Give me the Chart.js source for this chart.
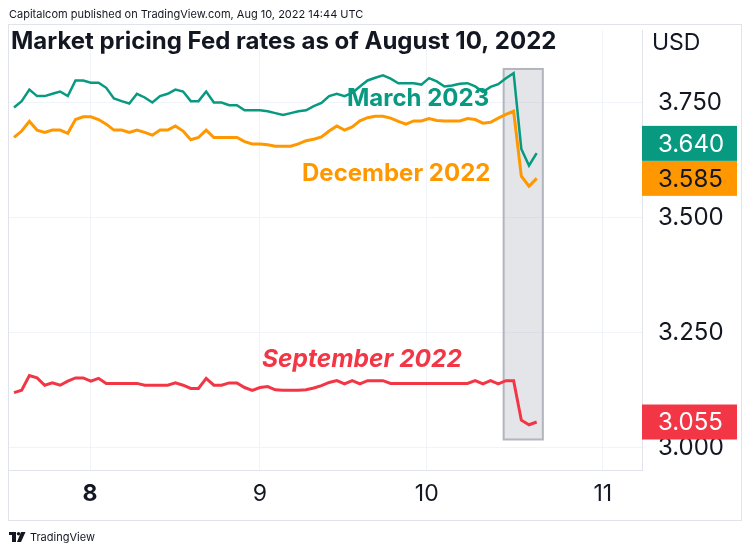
<!DOCTYPE html>
<html>
<head>
<meta charset="utf-8">
<script src="https://cdn.jsdelivr.net/npm/chart.js@4.4.0/dist/chart.umd.min.js"></script>
<style>
  html, body { margin: 0; padding: 0; background: #fff; }
  #wrap { width: 750px; height: 553px; }
</style>
</head>
<body>
<div id="wrap"><canvas id="fedChart" width="750" height="553"></canvas></div>
<script>
// hourly bars, implied rate (USD) per fed funds futures contract
const march2023 = [3.739, 3.753, 3.778, 3.764, 3.764, 3.769, 3.774, 3.764, 3.798, 3.798, 3.793, 3.793, 3.782, 3.759, 3.753, 3.748, 3.769, 3.761, 3.750, 3.764, 3.769, 3.778, 3.774, 3.753, 3.753, 3.774, 3.750, 3.750, 3.744, 3.744, 3.733, 3.733, 3.733,
  3.731, 3.727, 3.723, 3.727, 3.731, 3.733, 3.742, 3.749, 3.764, 3.769, 3.764, 3.771, 3.785, 3.798, 3.804, 3.809, 3.802, 3.792, 3.792, 3.792, 3.789, 3.803, 3.796, 3.785, 3.787, 3.791, 3.792, 3.785, 3.773, 3.784, 3.790, 3.803, 3.814, 3.649, 3.613, 3.640];
const december2022 = [3.674, 3.688, 3.709, 3.690, 3.685, 3.690, 3.690, 3.683, 3.713, 3.719, 3.719, 3.713, 3.703, 3.690, 3.690, 3.685, 3.690, 3.685, 3.679, 3.690, 3.690, 3.699, 3.688, 3.669, 3.674, 3.690, 3.674, 3.674, 3.674, 3.674, 3.665, 3.660, 3.660,
  3.658, 3.655, 3.655, 3.655, 3.660, 3.667, 3.670, 3.675, 3.688, 3.699, 3.690, 3.697, 3.710, 3.717, 3.720, 3.720, 3.716, 3.709, 3.703, 3.710, 3.710, 3.715, 3.711, 3.710, 3.710, 3.710, 3.715, 3.713, 3.705, 3.707, 3.716, 3.724, 3.731, 3.590, 3.568, 3.585];
const september2022 = [3.119, 3.124, 3.156, 3.151, 3.135, 3.140, 3.135, 3.144, 3.151, 3.151, 3.144, 3.150, 3.139, 3.139, 3.139, 3.139, 3.139, 3.135, 3.135, 3.135, 3.135, 3.140, 3.135, 3.128, 3.128, 3.150, 3.135, 3.135, 3.140, 3.140, 3.130, 3.124, 3.130,
  3.132, 3.125, 3.124, 3.124, 3.124, 3.125, 3.129, 3.134, 3.141, 3.145, 3.138, 3.145, 3.138, 3.145, 3.145, 3.145, 3.139, 3.139, 3.139, 3.139, 3.139, 3.139, 3.139, 3.139, 3.139, 3.139, 3.139, 3.145, 3.138, 3.145, 3.138, 3.145, 3.145, 3.059, 3.049, 3.055];

// day boundaries (in bar index) and their labels
const dayTickPos = [9.9, 32, 53.7, 76.6];
const dayLabels = ['8', '9', '10', '11'];
const priceTicks = [3.0, 3.25, 3.5, 3.75];

const seriesNames = ['March 2023', 'December 2022', 'September 2022'];
const seriesColors = ['#089981', '#ff9800', '#f23645'];

const FONT = 'Inter, "Noto Sans", sans-serif';
const TEXT = '#131722';
const FRAME = '#e0e3eb';

// grey box round the last session's drop (data units)
const highlight = { x0: 63.7, x1: 68.8, y0: 3.017, y1: 3.823 };

const annotations = [
  { text: 'March 2023', x: 347, y: 106, font: 'bold 24px ' + FONT, color: '#089981' },
  { text: 'December 2022', x: 302, y: 181, font: 'bold 24px ' + FONT, color: '#ff9800' },
  { text: 'September 2022', x: 262, y: 367, font: 'italic bold 24.5px ' + FONT, color: '#f23645' }
];

const valueText = ['#ffffff', TEXT, '#ffffff'];

const toPoints = arr => arr.map((v, i) => ({ x: i, y: v }));

const decor = {
  id: 'decor',
  beforeDraw(chart) {
    const c = chart.ctx;
    c.save();
    c.fillStyle = '#fff';
    c.fillRect(0, 0, chart.width, chart.height);
    c.restore();
  },
  beforeDatasetsDraw(chart) {
    const { ctx: c, scales: { x, y } } = chart;
    const l = x.getPixelForValue(highlight.x0), r = x.getPixelForValue(highlight.x1);
    const t = y.getPixelForValue(highlight.y1), b = y.getPixelForValue(highlight.y0);
    c.save();
    c.fillStyle = 'rgba(178,181,190,0.35)';
    c.fillRect(l, t, r - l, b - t);
    c.strokeStyle = '#b2b5be';
    c.lineWidth = 2;
    c.strokeRect(l, t, r - l, b - t);
    c.restore();
  },
  afterDatasetsDraw(chart) {
    const c = chart.ctx;
    c.save();
    c.textBaseline = 'alphabetic';
    annotations.forEach(a => {
      c.font = a.font;
      c.fillStyle = a.color;
      c.fillText(a.text, a.x, a.y);
    });
    c.restore();
  },
  afterDraw(chart) {
    const { ctx: c, chartArea: ca, scales: { y } } = chart;
    c.save();
    // outer frame
    c.strokeStyle = FRAME;
    c.lineWidth = 1;
    c.strokeRect(8.5, 24.5, 733, 496);

    // header + title
    c.fillStyle = TEXT;
    c.textBaseline = 'middle';
    c.font = '11px ' + FONT;
    c.fillText('Capitalcom published on TradingView.com, Aug 10, 2022 14:44 UTC', 9, 15);
    c.font = 'bold 24px ' + FONT;
    c.textBaseline = 'alphabetic';
    c.fillText('Market pricing Fed rates as of August 10, 2022', 11, 49);

    // currency
    c.font = '23px ' + FONT;
    c.textBaseline = 'middle';
    c.fillText('USD', 652, 43);

    // last value labels, pushed apart when they overlap
    const h = 35;
    const labels = chart.data.datasets.map((ds, i) => {
      const last = ds.data[ds.data.length - 1].y;
      return { v: last, py: y.getPixelForValue(last), i };
    }).sort((a, b) => a.v - b.v);
    let prev = null;
    labels.forEach(l => {
      if (prev !== null && prev - l.py < h) l.py = prev - h;
      prev = l.py;
    });
    c.font = '24px ' + FONT;
    labels.forEach(l => {
      c.fillStyle = seriesColors[l.i];
      c.fillRect(ca.right, l.py - h / 2, 95, h);
      c.fillStyle = valueText[l.i];
      c.fillText(l.v.toFixed(3), 658, l.py + 1);
    });

    // footer
    c.fillStyle = TEXT;
    c.fillRect(9, 532, 7, 3);
    c.fillRect(12, 532, 4, 10);
    c.beginPath();
    c.arc(18.5, 533.7, 1.7, 0, Math.PI * 2);
    c.fill();
    c.beginPath();
    c.moveTo(21, 532); c.lineTo(25.5, 532); c.lineTo(21, 542); c.lineTo(17, 542);
    c.closePath();
    c.fill();
    c.font = '11px ' + FONT;
    c.fillText('TradingView', 30, 537.5);
    c.restore();
  }
};

new Chart(document.getElementById('fedChart'), {
  type: 'line',
  data: {
    datasets: [march2023, december2022, september2022].map((arr, i) => ({
      label: seriesNames[i],
      data: toPoints(arr),
      borderColor: seriesColors[i],
      borderWidth: i === 0 ? 2.5 : 3,
      pointRadius: 0,
      tension: 0,
      fill: false
    }))
  },
  options: {
    responsive: false,
    animation: false,
    devicePixelRatio: 1,
    layout: { padding: { left: 9, top: 25, right: 8, bottom: 32 } },
    plugins: {
      legend: { display: false },
      tooltip: { enabled: false }
    },
    scales: {
      x: {
        type: 'linear',
        min: -0.65,
        max: 81.7,
        afterBuildTicks: s => { s.ticks = dayTickPos.map(v => ({ value: v })); },
        afterFit: s => { s.height = 51; },
        grid: { color: '#f0f3fa', drawTicks: false },
        border: { color: FRAME },
        ticks: {
          autoSkip: false,
          maxRotation: 0,
          padding: 10,
          color: TEXT,
          font: c => ({ family: FONT, size: 23, weight: c.index === 0 ? 'bold' : 'normal' }),
          callback: (v, i) => dayLabels[i]
        }
      },
      y: {
        type: 'linear',
        position: 'right',
        min: 2.9506,
        max: 3.9069,
        afterBuildTicks: s => { s.ticks = priceTicks.map(v => ({ value: v })); },
        afterFit: s => { s.width = 100; },
        grid: { color: '#f0f3fa', drawTicks: false },
        border: { color: FRAME },
        ticks: {
          padding: 16,
          color: TEXT,
          font: { family: FONT, size: 24 },
          callback: v => v.toFixed(3)
        }
      }
    }
  },
  plugins: [decor]
});
</script>
</body>
</html>
